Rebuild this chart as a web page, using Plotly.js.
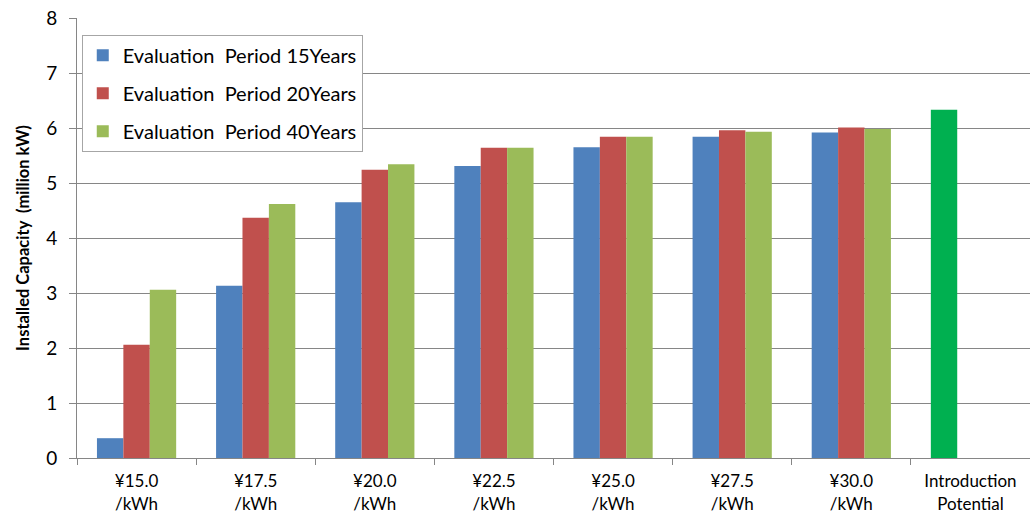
<!DOCTYPE html>
<html>
<head>
<meta charset="utf-8">
<script src="https://cdn.plot.ly/plotly-3.0.1.min.js"></script>
<style>html,body{margin:0;padding:0;background:#fff;}#chart{width:1030px;height:516px;}</style>
</head>
<body>
<div id="chart"></div>
<script>
var categories = ["¥15.0<br>/kWh","¥17.5<br>/kWh","¥20.0<br>/kWh","¥22.5<br>/kWh","¥25.0<br>/kWh","¥27.5<br>/kWh","¥30.0<br>/kWh","Introduction<br>Potential"];
var period15 = [0.36, 3.13, 4.65, 5.31, 5.65, 5.84, 5.92, null];
var period20 = [2.06, 4.37, 5.24, 5.64, 5.84, 5.96, 6.01, null];
var period40 = [3.06, 4.62, 5.34, 5.64, 5.84, 5.93, 5.98, null];
var potential = [null, null, null, null, null, null, null, 6.33];
var seriesNames = ["Evaluation  Period 15Years","Evaluation  Period 20Years","Evaluation  Period 40Years"];

var font = "Lato, 'Liberation Sans', sans-serif";
var traces = [
  {type:"bar", x:categories, y:period15, name:seriesNames[0], offsetgroup:"a", legendgroup:"g1", marker:{color:"#4F81BD"}},
  {type:"bar", x:categories, y:period20, name:seriesNames[1], offsetgroup:"b", legendgroup:"g2", marker:{color:"#C0504D"}},
  {type:"bar", x:categories, y:period40, name:seriesNames[2], offsetgroup:"c", legendgroup:"g3", marker:{color:"#9BBB59"}},
  {type:"bar", x:categories, y:potential, name:"Introduction Potential", offsetgroup:"a", showlegend:false, marker:{color:"#00B050"}}
];
var layout = {
  width:1030, height:516,
  margin:{l:77, r:0, t:18, b:58},
  paper_bgcolor:"#fff", plot_bgcolor:"#fff",
  barmode:"group", bargap:0.335, bargroupgap:0,
  font:{family:font, color:"#000", size:17.5},
  showlegend:true,
  legend:{x:0.005, y:0.962, xanchor:"left", yanchor:"top", bgcolor:"#fff", bordercolor:"#A6A6A6", borderwidth:1,
          font:{family:font, size:20, color:"#000"}, tracegroupgap:9, traceorder:"grouped"},
  xaxis:{type:"category", tickson:"boundaries", ticks:"outside", ticklen:6, tickcolor:"#868686",
         showline:true, linecolor:"#868686", linewidth:1, showgrid:false, tickfont:{size:17}, ticklabelstandoff:8},
  yaxis:{range:[0,8], dtick:1, ticks:"outside", ticklen:7, tickcolor:"#868686", showline:true, linecolor:"#868686",
         gridcolor:"#868686", gridwidth:1, zeroline:false, tickfont:{size:19}, ticklabelstandoff:8,
         title:{text:"<b>Installed Capacity  (million kW)</b>", font:{size:16.5}, standoff:12}}
};
Plotly.newPlot("chart", traces, layout, {staticPlot:true});
</script>
</body>
</html>
